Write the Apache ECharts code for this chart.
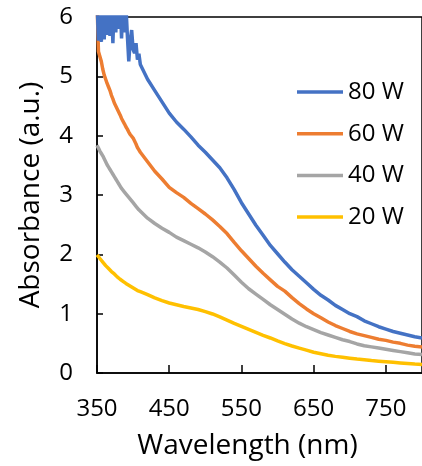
<!DOCTYPE html>
<html>
<head>
<meta charset="utf-8">
<script src="https://cdn.jsdelivr.net/npm/echarts@6/dist/echarts.min.js"></script>
<style>
  html, body { margin: 0; padding: 0; background: #fff; }
  #chart { width: 422px; height: 466px; }
</style>
</head>
<body>
<div id="chart"></div>
<script>
// Wavelength grid (nm): fine steps across the noisy UV edge, then 10 nm steps
const wavelength = [
  350, 352, 354, 356, 358, 360, 362, 364, 366, 368, 370, 372, 374, 376, 378, 380,
  382, 384, 386, 388, 390, 392, 394, 396, 398, 400, 402, 404, 406, 408, 410,
  420, 430, 440, 450, 460, 470, 480, 490, 500, 510, 520, 530, 540, 550, 560, 570,
  580, 590, 600, 610, 620, 630, 640, 650, 660, 670, 680, 690, 700, 710, 720, 730,
  740, 750, 760, 770, 780, 790, 800
];

const seriesNames = ['80 W', '60 W', '40 W', '20 W'];

const abs80W = [
  6.3, 5.6, 6.3, 5.58, 6.3, 5.62, 6.3, 5.7, 6.2, 5.68, 6.3, 5.56, 6.3, 5.74, 6.3, 5.8,
  6.3, 5.64, 6.3, 5.74, 6.2, 5.7, 5.25, 5.6, 5.78, 5.45, 5.39, 5.56, 5.28, 5.38, 5.2,
  4.95, 4.76, 4.57, 4.38, 4.23, 4.11, 3.98, 3.84, 3.72, 3.59, 3.46, 3.29, 3.09, 2.87, 2.68, 2.49,
  2.32, 2.15, 2.01, 1.87, 1.74, 1.63, 1.52, 1.41, 1.31, 1.23, 1.14, 1.07, 1.00, 0.95, 0.88, 0.83,
  0.78, 0.74, 0.70, 0.67, 0.64, 0.61, 0.59
];

const abs60W = [
  6.3, 5.42, 5.39, 5.25, 5.12, 5.02, 4.95, 4.88, 4.82, 4.76, 4.68, 4.62, 4.55, 4.5, 4.45, 4.4,
  4.35, 4.29, 4.26, 4.2, 4.15, 4.11, 4.06, 4.02, 3.99, 3.96, 3.91, 3.86, 3.8, 3.76, 3.72,
  3.56, 3.40, 3.27, 3.13, 3.04, 2.96, 2.86, 2.77, 2.68, 2.58, 2.47, 2.35, 2.20, 2.06, 1.93, 1.80,
  1.68, 1.57, 1.46, 1.38, 1.27, 1.17, 1.08, 1.00, 0.93, 0.86, 0.80, 0.75, 0.70, 0.66, 0.63, 0.60,
  0.57, 0.55, 0.52, 0.50, 0.47, 0.45, 0.44
];

const abs40W = [
  3.84, 3.79, 3.74, 3.70, 3.66, 3.61, 3.56, 3.51, 3.47, 3.43, 3.39, 3.35, 3.31, 3.27, 3.23, 3.19,
  3.15, 3.11, 3.08, 3.05, 3.02, 2.99, 2.96, 2.93, 2.90, 2.87, 2.84, 2.81, 2.78, 2.75, 2.72,
  2.61, 2.52, 2.44, 2.37, 2.29, 2.23, 2.17, 2.11, 2.04, 1.96, 1.87, 1.77, 1.65, 1.53, 1.42, 1.33,
  1.24, 1.15, 1.07, 0.99, 0.91, 0.84, 0.78, 0.73, 0.68, 0.64, 0.60, 0.56, 0.53, 0.49, 0.46, 0.44,
  0.42, 0.40, 0.38, 0.36, 0.34, 0.32, 0.31
];

const abs20W = [
  1.99, 1.96, 1.93, 1.90, 1.87, 1.84, 1.81, 1.79, 1.76, 1.74, 1.71, 1.69, 1.67, 1.64, 1.62, 1.60,
  1.58, 1.56, 1.545, 1.53, 1.51, 1.50, 1.48, 1.47, 1.45, 1.44, 1.42, 1.41, 1.39, 1.38, 1.37,
  1.32, 1.265, 1.22, 1.18, 1.15, 1.12, 1.095, 1.07, 1.035, 0.995, 0.945, 0.89, 0.835, 0.785, 0.735, 0.685,
  0.635, 0.59, 0.54, 0.495, 0.455, 0.42, 0.385, 0.35, 0.325, 0.30, 0.28, 0.265, 0.25, 0.235, 0.225, 0.21,
  0.20, 0.19, 0.18, 0.17, 0.16, 0.15, 0.145
];

const seriesValues = [abs80W, abs60W, abs40W, abs20W];
const seriesColors = ['#4472C4', '#ED7D31', '#A5A5A5', '#FFC000'];

const FONT = '"Open Sans", Lato, sans-serif';

const chart = echarts.init(document.getElementById('chart'), null, { renderer: 'canvas' });

const series = seriesNames.map((name, i) => ({
  name: name,
  type: 'line',
  data: wavelength.map((w, j) => [w, seriesValues[i][j]]),
  showSymbol: false,
  clip: true,
  lineStyle: { color: seriesColors[i], width: 3.5 },
  itemStyle: { color: seriesColors[i] },
  z: 10 - i
}));

chart.setOption({
  animation: false,
  backgroundColor: '#fff',
  grid: {
    left: 97, top: 17, right: -6, bottom: 93,
    show: true, borderColor: '#000', borderWidth: 1.5, backgroundColor: 'transparent'
  },
  legend: {
    orient: 'vertical',
    left: 292,
    top: 74,
    icon: 'rect',
    itemWidth: 46,
    itemHeight: 3.5,
    itemGap: 15.7,
    textStyle: { fontFamily: FONT, fontSize: 24, color: '#000', lineHeight: 26 },
    data: seriesNames
  },
  xAxis: {
    type: 'value',
    min: 350,
    max: 800,
    interval: 100,
    name: 'Wavelength (nm)',
    nameLocation: 'middle',
    nameGap: 59,
    nameMoveOverlap: false,
    nameTextStyle: { fontFamily: FONT, fontSize: 28, color: '#000', padding: [0, 24, 0, 0] },
    axisLine: { show: true, lineStyle: { color: '#000', width: 1.5 } },
    axisTick: { show: true, inside: true, length: 8, lineStyle: { color: '#000', width: 1.5 } },
    axisLabel: { fontFamily: FONT, fontSize: 24, color: '#000', margin: 24, showMaxLabel: false },
    splitLine: { show: false }
  },
  yAxis: {
    type: 'value',
    min: 0,
    max: 6,
    interval: 1,
    name: 'Absorbance (a.u.)',
    nameLocation: 'middle',
    nameGap: 52,
    nameMoveOverlap: false,
    nameTextStyle: { fontFamily: FONT, fontSize: 28, color: '#000' },
    axisLine: { show: true, lineStyle: { color: '#000', width: 1.5 } },
    axisTick: { show: true, inside: true, length: 6, lineStyle: { color: '#000', width: 1.5 } },
    axisLabel: { fontFamily: FONT, fontSize: 24, color: '#000', margin: 24 },
    splitLine: { show: false }
  },
  series: series
});
</script>
</body>
</html>
